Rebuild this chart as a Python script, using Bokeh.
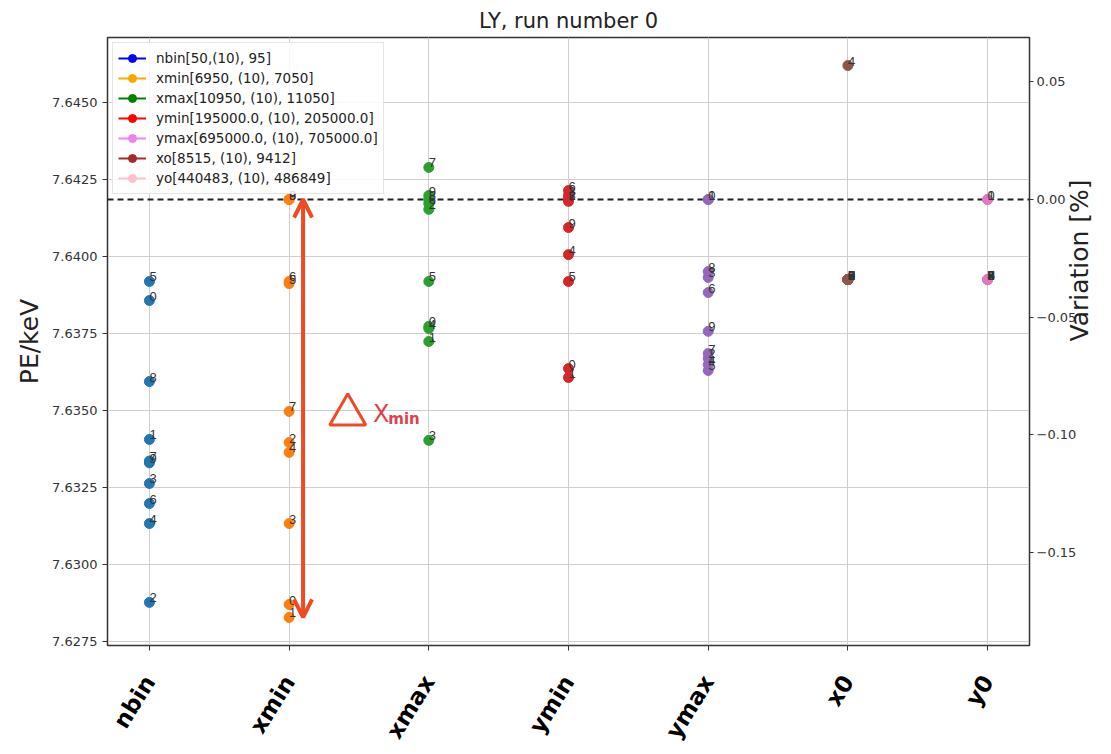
import math
from bokeh.plotting import figure
from bokeh.models import (Range1d, LinearAxis, FixedTicker, Span, Arrow, OpenHead,
                          Label, Legend, LegendItem, ColumnDataSource)
from bokeh.embed import file_html
from bokeh.resources import INLINE

FONT = "DejaVu Sans"

categories = ["nbin", "xmin", "xmax", "ymin", "ymax", "x0", "y0"]

nbin_vals = [7.63857, 7.63406, 7.62877, 7.63263, 7.63133, 7.63919, 7.63198, 7.63336, 7.63594, 7.63330]
xmin_vals = [7.62870, 7.62828, 7.63396, 7.63133, 7.63364, 7.63912, 7.63919, 7.63497, 7.64185, 7.64185]
xmax_vals = [7.63773, 7.63724, 7.64153, 7.63403, 7.63766, 7.63919, 7.64172, 7.64289, 7.64185, 7.64198]
ymin_vals = [7.63636, 7.63607, 7.64185, 7.64198, 7.64006, 7.63919, 7.64214, 7.64179, 7.64185, 7.64094]
ymax_vals = [7.64185, 7.64185, 7.63669, 7.63932, 7.63649, 7.63630, 7.63883, 7.63685, 7.63951, 7.63757]
x0_vals = [7.63925, 7.63925, 7.63925, 7.63925, 7.64620, 7.63925, 7.63925, 7.63925, 7.63925, 7.63925]
y0_vals = [7.64185, 7.64185, 7.63925, 7.63925, 7.63925, 7.63925, 7.63925, 7.63925, 7.63925, 7.63925]
series_vals = [nbin_vals, xmin_vals, xmax_vals, ymin_vals, ymax_vals, x0_vals, y0_vals]

point_colors = ["#1f77b4", "#ff7f0e", "#2ca02c", "#d62728", "#9467bd", "#8c564b", "#e377c2"]

legend_labels = ["nbin[50,(10), 95]", "xmin[6950, (10), 7050]", "xmax[10950, (10), 11050]",
                 "ymin[195000.0, (10), 205000.0]", "ymax[695000.0, (10), 705000.0]",
                 "xo[8515, (10), 9412]", "yo[440483, (10), 486849]"]
legend_colors = ["blue", "orange", "green", "red", "violet", "brown", "pink"]

ref_value = 7.64185
y_lo, y_hi = 7.62737, 7.64711

left_ticks = [7.6275, 7.6300, 7.6325, 7.6350, 7.6375, 7.6400, 7.6425, 7.6450]
left_tick_labels = ["7.6275", "7.6300", "7.6325", "7.6350", "7.6375", "7.6400", "7.6425", "7.6450"]
right_ticks = [-0.15, -0.10, -0.05, 0.00, 0.05]
right_tick_labels = ["\u22120.15", "\u22120.10", "\u22120.05", "0.00", "0.05"]

p = figure(width=1111, height=754, x_range=Range1d(-0.3, 6.3), y_range=Range1d(y_lo, y_hi),
           output_backend="svg", toolbar_location=None,
           min_border_left=107, min_border_right=82, min_border_top=37, min_border_bottom=109)
p.background_fill_color = "white"
p.border_fill_color = "white"
p.outline_line_color = "#333333"
p.outline_line_width = 1.5

p.title.text = "LY, run number 0"
p.title.align = "center"
p.title.text_font = FONT
p.title.text_font_size = "21px"
p.title.text_font_style = "normal"
p.title.text_color = "#222222"

# grids
p.xgrid.ticker = FixedTicker(ticks=list(range(len(categories))))
p.xgrid.grid_line_color = "#cfcfcf"
p.ygrid.grid_line_color = "#cfcfcf"

# x axis
xa = p.xaxis[0]
xa.ticker = FixedTicker(ticks=list(range(len(categories))))
xa.major_label_overrides = {i: c for i, c in enumerate(categories)}
xa.major_label_orientation = math.radians(58)
xa.major_label_text_font = FONT
xa.major_label_text_font_size = "23px"
xa.major_label_text_font_style = "bold"
xa.major_label_text_color = "black"
xa.major_label_text_line_height = 0.9
xa.major_label_standoff = 27
xa.minor_tick_line_color = None
xa.major_tick_out = 5
xa.major_tick_in = 0
xa.axis_line_color = "#333333"
xa.major_tick_line_color = "#333333"

# left y axis
ya = p.yaxis[0]
ya.ticker = FixedTicker(ticks=left_ticks)
ya.major_label_overrides = {t: l for t, l in zip(left_ticks, left_tick_labels)}
ya.axis_label = "PE/keV"
ya.axis_label_text_font = FONT
ya.axis_label_text_font_size = "25px"
ya.axis_label_text_font_style = "normal"
ya.axis_label_text_color = "#222222"
ya.major_label_text_font = FONT
ya.major_label_text_font_size = "13px"
ya.major_label_text_color = "#333333"
ya.minor_tick_line_color = None
ya.major_tick_out = 5
ya.major_tick_in = 0
ya.axis_line_color = "#333333"
ya.major_tick_line_color = "#333333"

# right y axis (variation in percent)
p.extra_y_ranges = {"var": Range1d((y_lo - ref_value) / ref_value * 100,
                                   (y_hi - ref_value) / ref_value * 100)}
ra = LinearAxis(y_range_name="var", ticker=FixedTicker(ticks=right_ticks))
ra.major_label_overrides = {t: l for t, l in zip(right_ticks, right_tick_labels)}
ra.axis_label = "Variation [%]"
ra.axis_label_text_font = FONT
ra.axis_label_text_font_size = "25px"
ra.axis_label_text_font_style = "normal"
ra.axis_label_text_color = "#222222"
ra.axis_label_text_line_height = 0.9
ra.axis_label_standoff = 0
ra.major_label_text_font = FONT
ra.major_label_text_font_size = "13px"
ra.major_label_text_color = "#333333"
ra.major_label_standoff = 3
ra.minor_tick_line_color = None
ra.major_tick_out = 4
ra.major_tick_in = 0
ra.axis_line_color = "#333333"
ra.major_tick_line_color = "#333333"
try:
    ra.axis_label_orientation = math.pi / 2
except Exception:
    pass
p.add_layout(ra, "right")

# reference line
p.add_layout(Span(location=ref_value, dimension="width", line_color="#222222",
                  line_dash="6 4", line_width=2, level="underlay"))

# data points and index labels
for i, vals in enumerate(series_vals):
    src = ColumnDataSource(dict(x=[i] * len(vals), y=vals))
    p.scatter("x", "y", source=src, size=10, fill_color=point_colors[i], line_color=point_colors[i])
for i, vals in enumerate(series_vals):
    src = ColumnDataSource(dict(x=[i] * len(vals), y=vals, lab=[str(k) for k in range(len(vals))]))
    p.text("x", "y", text="lab", source=src, text_font_size="13px", text_color="#333333",
           text_align="left", text_baseline="bottom", y_offset=0, x_offset=0)

# legend (line + marker entries)
nan = float("nan")
items = []
for lbl, col in zip(legend_labels, legend_colors):
    rl = p.line(x=[nan], y=[nan], line_color=col, line_width=2)
    rs = p.scatter(x=[nan], y=[nan], size=9, fill_color=col, line_color=col)
    items.append(LegendItem(label=lbl, renderers=[rl, rs]))
legend = Legend(items=items, location="top_left")
legend.label_text_font = FONT
legend.label_text_font_size = "13.5px"
legend.label_text_color = "#222222"
legend.glyph_width = 28
legend.glyph_height = 20
legend.label_height = 20
legend.label_standoff = 10
legend.spacing = 0
legend.padding = 5
legend.margin = 5
legend.border_line_color = "#cccccc"
legend.background_fill_alpha = 0.85
p.add_layout(legend)

# annotation: delta x_min arrow
ann_color = "#f04a23"
xi = categories.index("xmin")
arrow_x = xi + 0.10
p.add_layout(Arrow(start=OpenHead(size=18, line_color=ann_color, line_width=4),
                   end=OpenHead(size=18, line_color=ann_color, line_width=4),
                   x_start=arrow_x, y_start=ref_value, x_end=arrow_x, y_end=min(xmin_vals),
                   line_color=ann_color, line_width=4))
mid_y = (ref_value + min(xmin_vals)) / 2
p.scatter(x=[xi + 0.42], y=[mid_y - 0.0002], marker="triangle", size=36, fill_color=None,
          line_color=ann_color, line_width=3)
p.add_layout(Label(x=xi + 0.60, y=mid_y, text="X", text_color="#e0404a", text_font=FONT,
                   text_font_size="24px", text_baseline="alphabetic", y_offset=-6))
p.add_layout(Label(x=xi + 0.71, y=mid_y, text="min", text_color="#e0404a", text_font=FONT,
                   text_font_size="15px", text_font_style="bold", text_baseline="alphabetic",
                   y_offset=-11))

open("out.html", "w").write(file_html(p, INLINE))
